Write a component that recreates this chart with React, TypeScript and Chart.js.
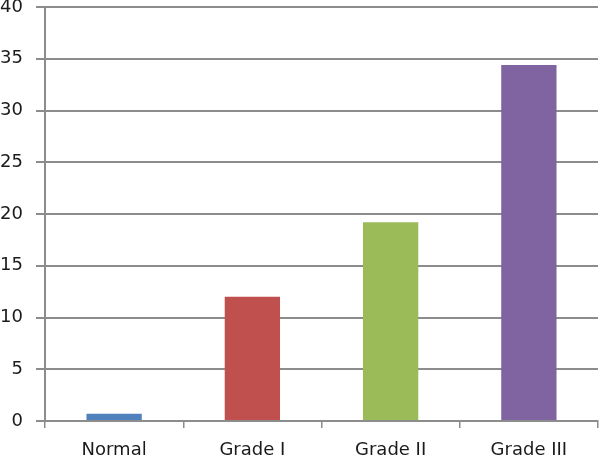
import React, { useEffect, useRef } from "react";
import { Chart, registerables } from "chart.js";

Chart.register(...registerables);

const categories = ["Normal", "Grade I", "Grade II", "Grade III"];
const values = [0.7, 12, 19.2, 34.4];
const barColors = ["#4F81BD", "#C0504D", "#9BBB59", "#8064A2"];
const yTicks = [0, 5, 10, 15, 20, 25, 30, 35, 40];

export default function App() {
  const ref = useRef<HTMLCanvasElement | null>(null);

  useEffect(() => {
    document.body.style.margin = "0";
    const canvas = ref.current;
    if (!canvas) return;
    const chart = new Chart(canvas, {
      type: "bar",
      data: {
        labels: categories,
        datasets: [
          {
            data: values,
            backgroundColor: barColors,
            borderWidth: 0,
            categoryPercentage: 1,
            barPercentage: 0.4,
          },
        ],
      },
      options: {
        animation: false,
        responsive: false,
        layout: { padding: { top: 0, right: 2, bottom: 0, left: 0 } },
        plugins: { legend: { display: false }, tooltip: { enabled: false } },
        scales: {
          x: {
            afterFit: (scale: any) => {
              scale.height = 39;
            },
            grid: {
              offset: true,
              drawOnChartArea: false,
              drawTicks: true,
              tickLength: 7,
              color: "#8c8c8c",
              lineWidth: 1.5,
            },
            border: { color: "#8c8c8c", width: 2 },
            ticks: {
              color: "#1a1a1a",
              font: { family: "DejaVu Sans", size: 18 },
              padding: 12,
            },
          },
          y: {
            min: 0,
            max: 40,
            afterFit: (scale: any) => {
              scale.width = 45;
              scale.paddingTop = 7;
            },
            afterBuildTicks: (scale: any) => {
              scale.ticks = yTicks.map((v) => ({ value: v }));
            },
            grid: {
              color: "#8c8c8c",
              lineWidth: 2,
              tickLength: 9,
            },
            border: { color: "#8c8c8c", width: 2 },
            ticks: {
              color: "#1a1a1a",
              font: { family: "DejaVu Sans", size: 18, lineHeight: 0.6 },
              padding: 13,
            },
          },
        },
      },
    });
    return () => chart.destroy();
  }, []);

  return (
    <div style={{ width: 600, height: 460, position: "relative" }}>
      <canvas ref={ref} width={600} height={460} />
    </div>
  );
}
